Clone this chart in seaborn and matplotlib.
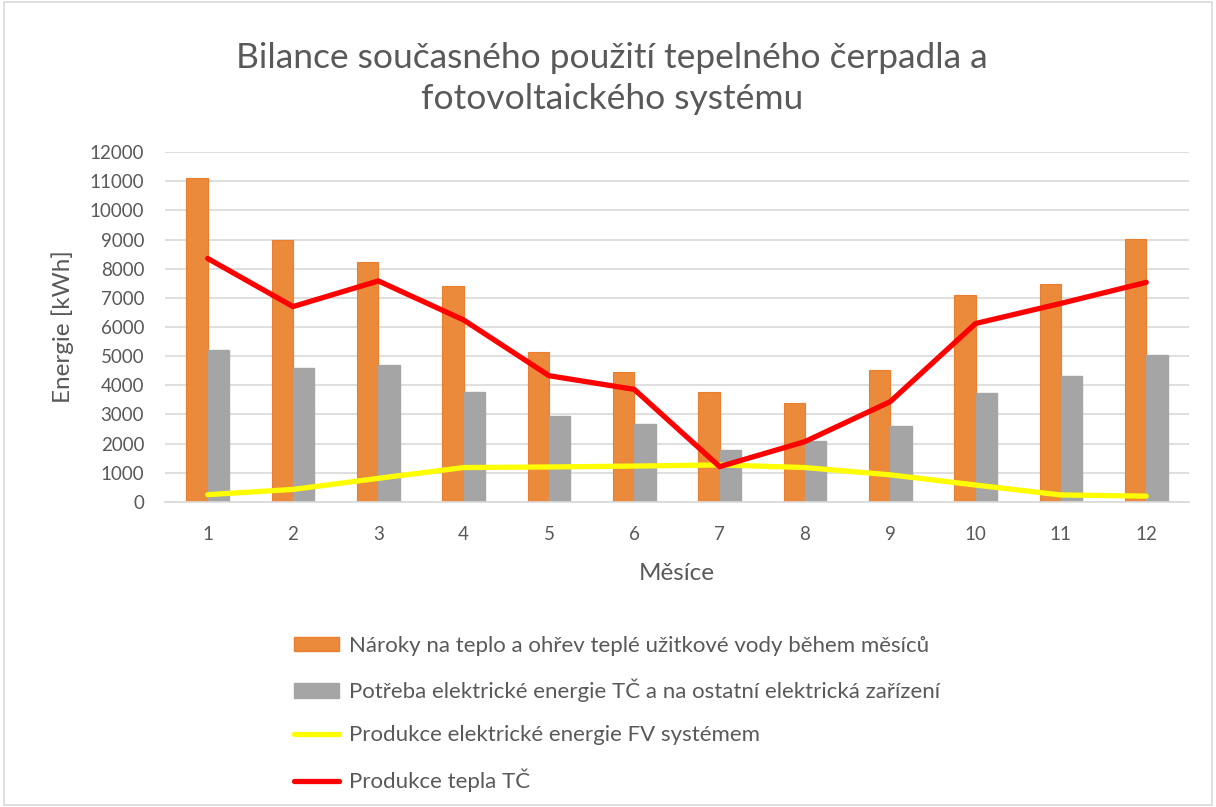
import numpy as np
import pandas as pd
import seaborn as sns
import matplotlib.pyplot as plt
from matplotlib.patches import Patch, Rectangle
from matplotlib.lines import Line2D

months = ["1", "2", "3", "4", "5", "6", "7", "8", "9", "10", "11", "12"]
naroky_teplo = [11120, 9000, 8240, 7420, 5150, 4450, 3780, 3380, 4510, 7090, 7460, 9030]
potreba_el = [5210, 4580, 4690, 3760, 2960, 2690, 1780, 2090, 2590, 3750, 4320, 5030]
produkce_fv = [250, 430, 810, 1180, 1200, 1230, 1270, 1180, 930, 580, 240, 200]
produkce_tepla = [8350, 6700, 7580, 6240, 4330, 3860, 1210, 2070, 3440, 6120, 6810, 7530]

lbl_bar1 = "Nároky na teplo a ohřev teplé užitkové vody během měsíců"
lbl_bar2 = "Potřeba elektrické energie TČ a na ostatní elektrická zařízení"
lbl_line1 = "Produkce elektrické energie FV systémem"
lbl_line2 = "Produkce tepla TČ"

c_orange = "#EC8A3C"
c_gray = "#A5A5A5"
c_yellow = "#FFFF00"
c_red = "#FF0000"
txt = "#595959"

sns.set_theme(style="white")
plt.rcParams["font.family"] = ["Lato", "DejaVu Sans"]

df = pd.DataFrame({
    "mesic": months * 2,
    "energie": naroky_teplo + potreba_el,
    "serie": [lbl_bar1] * 12 + [lbl_bar2] * 12,
})

fig = plt.figure(figsize=(12.16, 8.07), dpi=100)
ax = fig.add_axes([0.1357, 0.378, 0.842, 0.4336])

sns.barplot(data=df, x="mesic", y="energie", hue="serie", order=months,
            palette=[c_orange, c_gray], width=0.5, gap=0, ax=ax, legend=False,
            saturation=1)
for p in ax.patches[:12]:
    p.set_edgecolor("#E97F2E")
    p.set_linewidth(0.8)
for p in ax.patches[12:24]:
    p.set_edgecolor(c_gray)

xpos = np.arange(len(months))
sns.lineplot(x=xpos, y=produkce_fv, color=c_yellow, linewidth=3.8, ax=ax,
             solid_capstyle="round", solid_joinstyle="round", zorder=4)
sns.lineplot(x=xpos, y=produkce_tepla, color=c_red, linewidth=3.8, ax=ax,
             solid_capstyle="round", solid_joinstyle="round", zorder=5)

ax.set_xlim(-0.5, 11.5)
ax.set_ylim(0, 12000)
ax.set_yticks(range(0, 12001, 1000))
ax.yaxis.grid(True, color="#D9D9D9", linewidth=1.2)
ax.set_axisbelow(True)
for s in ["top", "right", "left"]:
    ax.spines[s].set_visible(False)
ax.spines["bottom"].set_color("#D9D9D9")
ax.spines["bottom"].set_linewidth(1.2)
ax.tick_params(axis="both", length=0, labelsize=13.5, colors=txt)
ax.tick_params(axis="y", pad=15)
ax.tick_params(axis="x", pad=17)

ax.set_xlabel("Měsíce", fontsize=17.5, color=txt, labelpad=15)
ax.set_ylabel("Energie [kWh]", fontsize=17.5, color=txt, labelpad=11)

fig.text(0.503, 0.903, "Bilance současného použití tepelného čerpadla a\nfotovoltaického systému",
         ha="center", va="center", fontsize=25.5, color=txt, linespacing=1.33)

handles = [
    Patch(facecolor=c_orange, edgecolor="#E97F2E"),
    Patch(facecolor=c_gray, edgecolor=c_gray),
    Line2D([0], [0], color=c_yellow, linewidth=3.8, solid_capstyle="round"),
    Line2D([0], [0], color=c_red, linewidth=3.8, solid_capstyle="round"),
]
fig.legend(handles, [lbl_bar1, lbl_bar2, lbl_line1, lbl_line2],
           loc="upper left", bbox_to_anchor=(0.233, 0.226), bbox_transform=fig.transFigure,
           frameon=False, fontsize=16, labelcolor=txt, handlelength=2.0,
           handleheight=0.6, handletextpad=0.45, labelspacing=1.04, borderpad=0)

fig.add_artist(Rectangle((0.003, 0.003), 0.994, 0.994, transform=fig.transFigure,
                         fill=False, edgecolor="#D9D9D9", linewidth=1.2))

fig.savefig("out.png", dpi=100)
